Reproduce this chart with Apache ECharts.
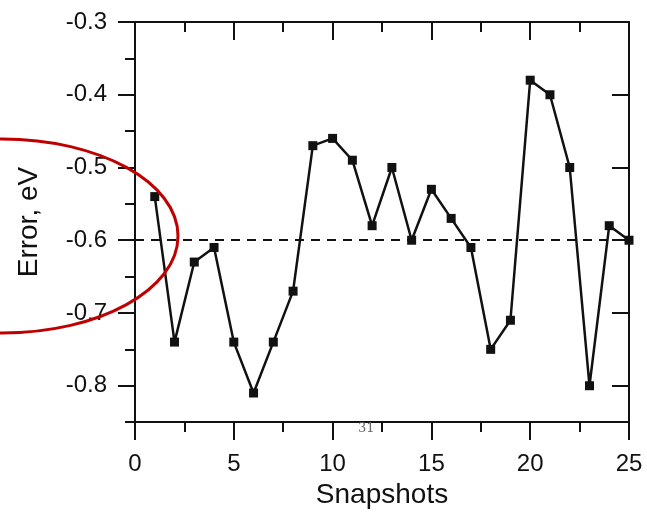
<!DOCTYPE html>
<html>
<head>
<meta charset="utf-8">
<script src="https://cdn.jsdelivr.net/npm/echarts@6/dist/echarts.min.js"></script>
<style>
html,body{margin:0;padding:0;background:#fff;}
#chart{width:647px;height:514px;}
</style>
</head>
<body>
<div id="chart"></div>
<script>
// ---- data ----
const snapshots = [1,2,3,4,5,6,7,8,9,10,11,12,13,14,15,16,17,18,19,20,21,22,23,24,25];
const errors = [-0.54,-0.74,-0.63,-0.61,-0.74,-0.81,-0.74,-0.67,-0.47,-0.46,-0.49,-0.58,-0.50,-0.60,-0.53,-0.57,-0.61,-0.75,-0.71,-0.38,-0.40,-0.50,-0.80,-0.58,-0.60];
const refLine = -0.6;
const yMajorTicks = [-0.8,-0.7,-0.6,-0.5,-0.4,-0.3];
const yMinorTicks = [-0.85,-0.75,-0.65,-0.55,-0.45,-0.35];
const xTitle = 'Snapshots';
const yTitle = 'Error, eV';
const pageNote = '31';

const FONT = '"Liberation Sans", Arial, Helvetica, sans-serif';
const AXC = '#111';

function yAxisDef(opts){
  return Object.assign({
    type:'value', min:-0.85, max:-0.3, position:'left',
    axisLine:{show:true, onZero:false, lineStyle:{color:AXC, width:2}},
    splitLine:{show:false},
    axisLabel:{show:false},
    axisTick:{show:true, lineStyle:{color:AXC, width:2}}
  }, opts);
}

const chart = echarts.init(document.getElementById('chart'), null, {renderer:'canvas'});
const option = {
  animation:false,
  backgroundColor:'#fff',
  grid:{left:135, right:18, top:22, bottom:91, containLabel:false},
  xAxis:[
    {
      type:'value', min:0, max:25, interval:5, position:'bottom',
      name:xTitle, nameLocation:'middle', nameGap:58,
      nameTextStyle:{fontFamily:FONT, fontSize:28, color:AXC},
      axisLine:{show:true, onZero:false, lineStyle:{color:AXC, width:2}},
      axisTick:{show:true, length:18, lineStyle:{color:AXC, width:2}},
      minorTick:{show:true, splitNumber:2, length:10, lineStyle:{color:AXC, width:2}},
      axisLabel:{fontFamily:FONT, fontSize:24, color:AXC, margin:30},
      splitLine:{show:false}
    },
    {
      type:'value', min:0, max:25, interval:5, position:'top',
      axisLine:{show:true, onZero:false, lineStyle:{color:AXC, width:2}},
      axisTick:{show:true, inside:true, length:18, lineStyle:{color:AXC, width:2}},
      minorTick:{show:true, splitNumber:2, length:10, lineStyle:{color:AXC, width:2}},
      axisLabel:{show:false},
      splitLine:{show:false}
    }
  ],
  yAxis:[
    yAxisDef({
      name:yTitle, nameLocation:'middle', nameGap:92,
      nameTextStyle:{fontFamily:FONT, fontSize:28, color:AXC},
      axisTick:{show:true, length:17, customValues:yMajorTicks, lineStyle:{color:AXC, width:2}},
      axisLabel:{show:true, customValues:yMajorTicks, fontFamily:FONT, fontSize:24, color:AXC, margin:28,
        formatter:function(v){return (Math.round(v*10)/10).toFixed(1);}}
    }),
    yAxisDef({
      axisLine:{show:false},
      axisTick:{show:true, length:10, customValues:yMinorTicks, lineStyle:{color:AXC, width:2}}
    }),
    yAxisDef({
      position:'right',
      axisTick:{show:true, inside:true, length:17, customValues:yMajorTicks, lineStyle:{color:AXC, width:2}}
    }),
    yAxisDef({
      position:'right', axisLine:{show:false},
      axisTick:{show:true, inside:true, length:10, customValues:yMinorTicks, lineStyle:{color:AXC, width:2}}
    })
  ],
  series:[{
    type:'line',
    xAxisIndex:0, yAxisIndex:0,
    data:snapshots.map((s,i)=>[s, errors[i]]),
    symbol:'rect', symbolSize:9,
    showAllSymbol:true,
    lineStyle:{color:AXC, width:2.5},
    itemStyle:{color:AXC},
    z:5,
    markLine:{
      silent:true, symbol:['none','none'],
      label:{show:false},
      lineStyle:{type:[9,7], color:AXC, width:2},
      data:[{yAxis:refLine}]
    }
  }],
  graphic:[
    {
      type:'text', left:358, top:422, z:50,
      style:{text:pageNote, font:'13px "DejaVu Serif", "Liberation Serif", serif', fill:'#666'}
    },
    {
      type:'ellipse', z:100,
      shape:{cx:2, cy:236, rx:176, ry:97},
      style:{fill:'none', stroke:'#c00000', lineWidth:3}
    }
  ]
};
chart.setOption(option);
</script>
</body>
</html>
